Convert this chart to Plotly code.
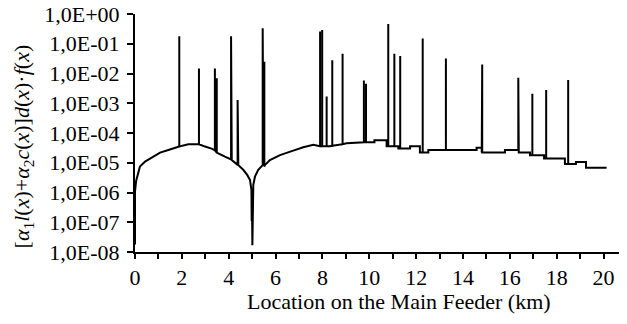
import plotly.graph_objects as go

# Baseline (staircase) of the curve: location (km) and value
base_x = [0, 0, 0.05, 0.12, 0.21, 0.43, 0.6, 0.78, 1.07, 1.49, 1.89, 2.28, 2.63, 2.99,
          3.27, 3.49, 3.84, 4.13, 4.41, 4.62, 4.79, 4.91, 4.97, 4.98, 5.0, 5.01, 5.02,
          5.05, 5.12, 5.26, 5.48, 5.76, 6.19, 6.69, 7.18, 7.61, 7.9, 8.32, 9.03, 9.6,
          10.22, 10.22, 10.74, 10.74, 11.24, 11.24, 11.74, 11.74, 12.16, 12.16, 12.52,
          12.52, 14.58, 14.58, 14.8, 14.8, 15.79, 15.79, 16.38, 16.38, 16.86, 16.86,
          17.46, 17.46, 18.35, 18.35, 18.82, 18.82, 19.25, 19.25, 20.13]
base_y = [1.8e-8, 1.1e-6, 2.5e-6, 4.5e-6, 7.4e-6, 1.1e-5, 1.3e-5, 1.6e-5, 2.2e-5, 2.8e-5,
          3.5e-5, 4.2e-5, 4.2e-5, 3.5e-5, 3.0e-5, 2.2e-5, 1.6e-5, 1.23e-5, 8.3e-6, 5.8e-6,
          3.9e-6, 2.6e-6, 1.2e-6, 1.2e-7, 1.2e-7, 1.7e-8, 1.2e-6,
          1.8e-6, 3.4e-6, 5.8e-6, 8.3e-6, 1.23e-5, 1.8e-5, 2.45e-5, 3.3e-5, 4.0e-5, 3.6e-5,
          3.6e-5, 4.5e-5, 4.9e-5,
          4.9e-5, 5.75e-5, 5.75e-5, 3.6e-5, 3.6e-5, 3.0e-5, 3.0e-5, 3.6e-5, 3.6e-5, 2.2e-5,
          2.2e-5, 2.7e-5, 2.7e-5, 3.2e-5, 3.2e-5, 2.2e-5, 2.2e-5, 2.7e-5, 2.7e-5, 2.2e-5,
          2.2e-5, 1.8e-5, 1.8e-5, 1.4e-5, 1.4e-5, 9.1e-6, 9.1e-6, 1.07e-5, 1.07e-5, 6.8e-6,
          6.8e-6]

# Spikes: location, peak value, and the baseline value at that location
spike_x = [1.89, 2.73, 3.41, 3.49, 4.10, 4.38, 5.45, 5.52, 7.90, 7.99, 8.18, 8.42, 8.86,
           9.77, 9.86, 10.81, 11.07, 11.32, 12.28, 13.27, 14.82, 16.36, 16.96, 17.55, 18.49]
spike_peak = [0.18, 0.0148, 0.0148, 0.0069, 0.18, 0.00129, 0.33, 0.025, 0.26, 0.29, 0.0017,
              0.028, 0.046, 0.0058, 0.0045, 0.46, 0.046, 0.039, 0.15, 0.032, 0.020, 0.0072,
              0.0021, 0.0028, 0.006]
spike_base = [3.5e-5, 4.2e-5, 2.6e-5, 2.2e-5, 1.3e-5, 8.5e-6, 8.3e-6, 8.0e-6, 3.6e-5, 3.6e-5,
              3.6e-5, 3.7e-5, 4.2e-5, 4.9e-5, 4.9e-5, 3.6e-5, 3.6e-5, 3.0e-5, 2.2e-5, 2.7e-5,
              2.2e-5, 2.7e-5, 1.8e-5, 1.4e-5, 9.1e-6]

y_tick_vals = [1e-8, 1e-7, 1e-6, 1e-5, 1e-4, 1e-3, 1e-2, 1e-1, 1e0]
y_tick_text = ["1,0E-08", "1,0E-07", "1,0E-06", "1,0E-05", "1,0E-04", "1,0E-03",
               "1,0E-02", "1,0E-01", "1,0E+00"]
x_minor_vals = list(range(0, 21))
x_tick_vals = list(range(0, 21, 2))
x_tick_text = [str(v) for v in x_tick_vals]

# Merge baseline and spikes into one path ordered by location
pts = [(x, 0, i, y) for i, (x, y) in enumerate(zip(base_x, base_y))]
for j, (sx, sp, sb) in enumerate(zip(spike_x, spike_peak, spike_base)):
    pts.append((sx, 1, 3 * j, sb))
    pts.append((sx, 1, 3 * j + 1, sp))
    pts.append((sx, 1, 3 * j + 2, sb))
pts.sort(key=lambda p: (p[0], p[1], p[2]))
xs = [p[0] for p in pts]
ys = [p[3] for p in pts]

font_family = "Liberation Serif"

fig = go.Figure()
fig.add_trace(go.Scatter(x=xs, y=ys, mode="lines",
                         line=dict(color="black", width=2), showlegend=False))

fig.update_layout(
    width=619, height=316,
    margin=dict(l=127, r=0, t=6, b=72),
    paper_bgcolor="white", plot_bgcolor="white",
    font=dict(family=font_family, size=22, color="black"),
    xaxis=dict(range=[0, 21], tickvals=x_tick_vals, ticktext=x_tick_text,
               ticks="outside", ticklen=5, tickwidth=2, tickcolor="black",
               minor=dict(tickvals=x_minor_vals, ticks="outside", ticklen=5,
                          tickwidth=2, tickcolor="black", showgrid=False),
               showline=True, linewidth=2, linecolor="black",
               showgrid=False, zeroline=False, automargin=False,
               ticklabeloverflow="allow",
               tickfont=dict(family=font_family, size=22)),
    yaxis=dict(type="log", range=[-8, 0], tickvals=y_tick_vals, ticktext=y_tick_text,
               ticks="outside", ticklen=6, tickwidth=2, tickcolor="black",
               showline=True, linewidth=2, linecolor="black",
               showgrid=False, zeroline=False, automargin=False,
               ticklabeloverflow="allow", ticklabelstandoff=3,
               tickfont=dict(family=font_family, size=22)),
)

fig.add_annotation(
    text="Location on the Main Feeder (km)",
    xref="paper", yref="paper", x=0.537, y=-0.21, showarrow=False,
    xanchor="center", yanchor="middle",
    font=dict(family=font_family, size=22, color="black"))

fig.add_annotation(
    text="[<i>α</i><sub>1</sub><i>l</i>(<i>x</i>)+<i>α</i><sub>2</sub><i>c</i>(<i>x</i>)]"
         "<i>d</i>(<i>x</i>)·<i>f</i>(<i>x</i>)",
    xref="paper", yref="paper", x=-0.228, y=0.443, showarrow=False,
    textangle=-90, xanchor="center", yanchor="middle",
    font=dict(family=font_family, size=22, color="black"))

fig.write_html("out.html")
